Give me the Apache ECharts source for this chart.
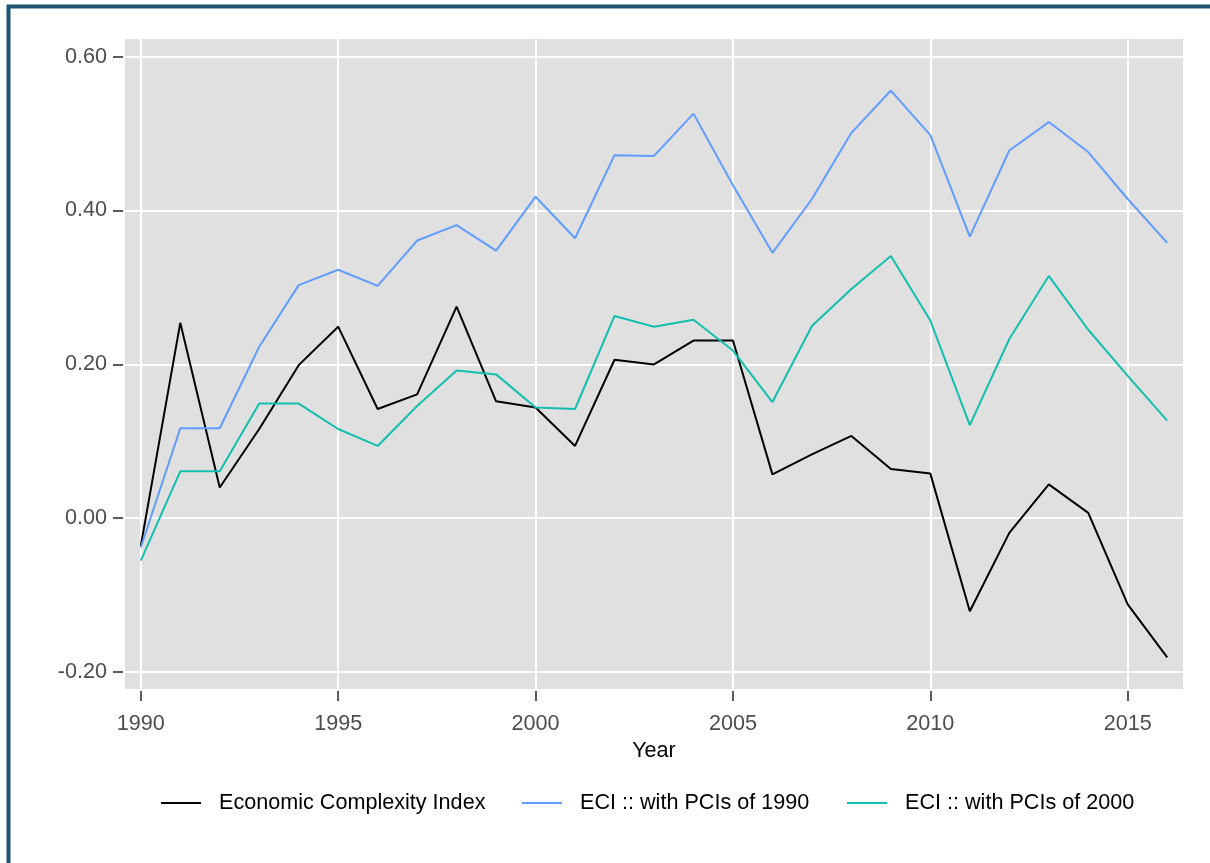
<!DOCTYPE html>
<html>
<head>
<meta charset="utf-8">
<script src="https://cdn.jsdelivr.net/npm/echarts@6/dist/echarts.min.js"></script>
<style>
html,body{margin:0;padding:0;background:#fff;}
#chart{width:1210px;height:863px;}
</style>
</head>
<body>
<div id="chart"></div>
<script>
const years = [1990,1991,1992,1993,1994,1995,1996,1997,1998,1999,2000,2001,2002,2003,2004,2005,2006,2007,2008,2009,2010,2011,2012,2013,2014,2015,2016];
const eci = [-0.036,0.254,0.040,0.116,0.199,0.249,0.142,0.161,0.275,0.152,0.144,0.094,0.206,0.200,0.231,0.231,0.057,0.083,0.107,0.064,0.058,-0.121,-0.019,0.044,0.007,-0.112,-0.181];
const eci1990 = [-0.038,0.117,0.117,0.223,0.303,0.323,0.302,0.361,0.381,0.348,0.418,0.364,0.472,0.471,0.526,0.433,0.345,0.415,0.501,0.556,0.498,0.366,0.478,0.515,0.476,0.415,0.358];
const eci2000 = [-0.055,0.061,0.061,0.149,0.149,0.116,0.094,0.146,0.192,0.187,0.144,0.142,0.263,0.249,0.258,0.218,0.151,0.250,0.298,0.341,0.257,0.121,0.233,0.315,0.245,0.185,0.127];
const xTicks = [1990,1995,2000,2005,2010,2015];
const yTicks = [-0.2,0.0,0.2,0.4,0.6];
const seriesNames = ['Economic Complexity Index','ECI :: with PCIs of 1990','ECI :: with PCIs of 2000'];
const seriesColors = ['#000000','#619cff','#12bfae'];

const pairs = vals => years.map((y,i)=>[y, vals[i]]);
const seriesVals = [eci, eci1990, eci2000];
const font = 'Liberation Sans, Arial, sans-serif';
const fs = 21.6;

const chart = echarts.init(document.getElementById('chart'));
const legendLefts = [161, 522, 847];
chart.setOption({
  animation: false,
  backgroundColor: '#ffffff',
  grid: {left:125, top:39, right:27, bottom:174, show:true, backgroundColor:'#e0e0e0', borderWidth:0},
  xAxis: {
    type:'value', min:1989.6, max:2016.4,
    name:'Year', nameLocation:'middle', nameGap:47,
    nameTextStyle:{color:'#000', fontSize:fs, fontFamily:font},
    offset:2,
    axisLine:{show:false, onZero:false},
    axisTick:{show:true, length:10, customValues:xTicks, lineStyle:{color:'#333', width:1.6}},
    axisLabel:{customValues:xTicks, color:'#4d4d4d', fontSize:fs, fontFamily:font, margin:22, formatter: v=>String(v)},
    splitLine:{show:true, lineStyle:{color:'#ffffff', width:2}}
  },
  yAxis: {
    type:'value', min:-0.222, max:0.623,
    offset:2,
    axisLine:{show:false, onZero:false},
    axisTick:{show:true, length:10, customValues:yTicks, lineStyle:{color:'#333', width:1.6}},
    axisLabel:{customValues:yTicks, color:'#4d4d4d', fontSize:fs, fontFamily:font, margin:16, formatter: v=>v.toFixed(2)},
    splitLine:{show:true, lineStyle:{color:'#ffffff', width:2}}
  },
  legend: seriesNames.map((n,i)=>({
    data:[n], left:legendLefts[i], top:792, padding:0,
    icon:'rect', itemWidth:40, itemHeight:2,
    textStyle:{color:'#000', fontSize:fs, fontFamily:font, padding:[0,0,0,13]}
  })),
  graphic: [{
    type:'rect', silent:true,
    shape:{x:8.5, y:6.5, width:1400, height:1000},
    style:{fill:'none', stroke:'#1e5470', lineWidth:4}
  }],
  series: seriesNames.map((n,i)=>({
    name:n, type:'line', data:pairs(seriesVals[i]),
    showSymbol:false, symbol:'none',
    lineStyle:{color:seriesColors[i], width:2},
    itemStyle:{color:seriesColors[i]}
  }))
});
</script>
</body>
</html>
